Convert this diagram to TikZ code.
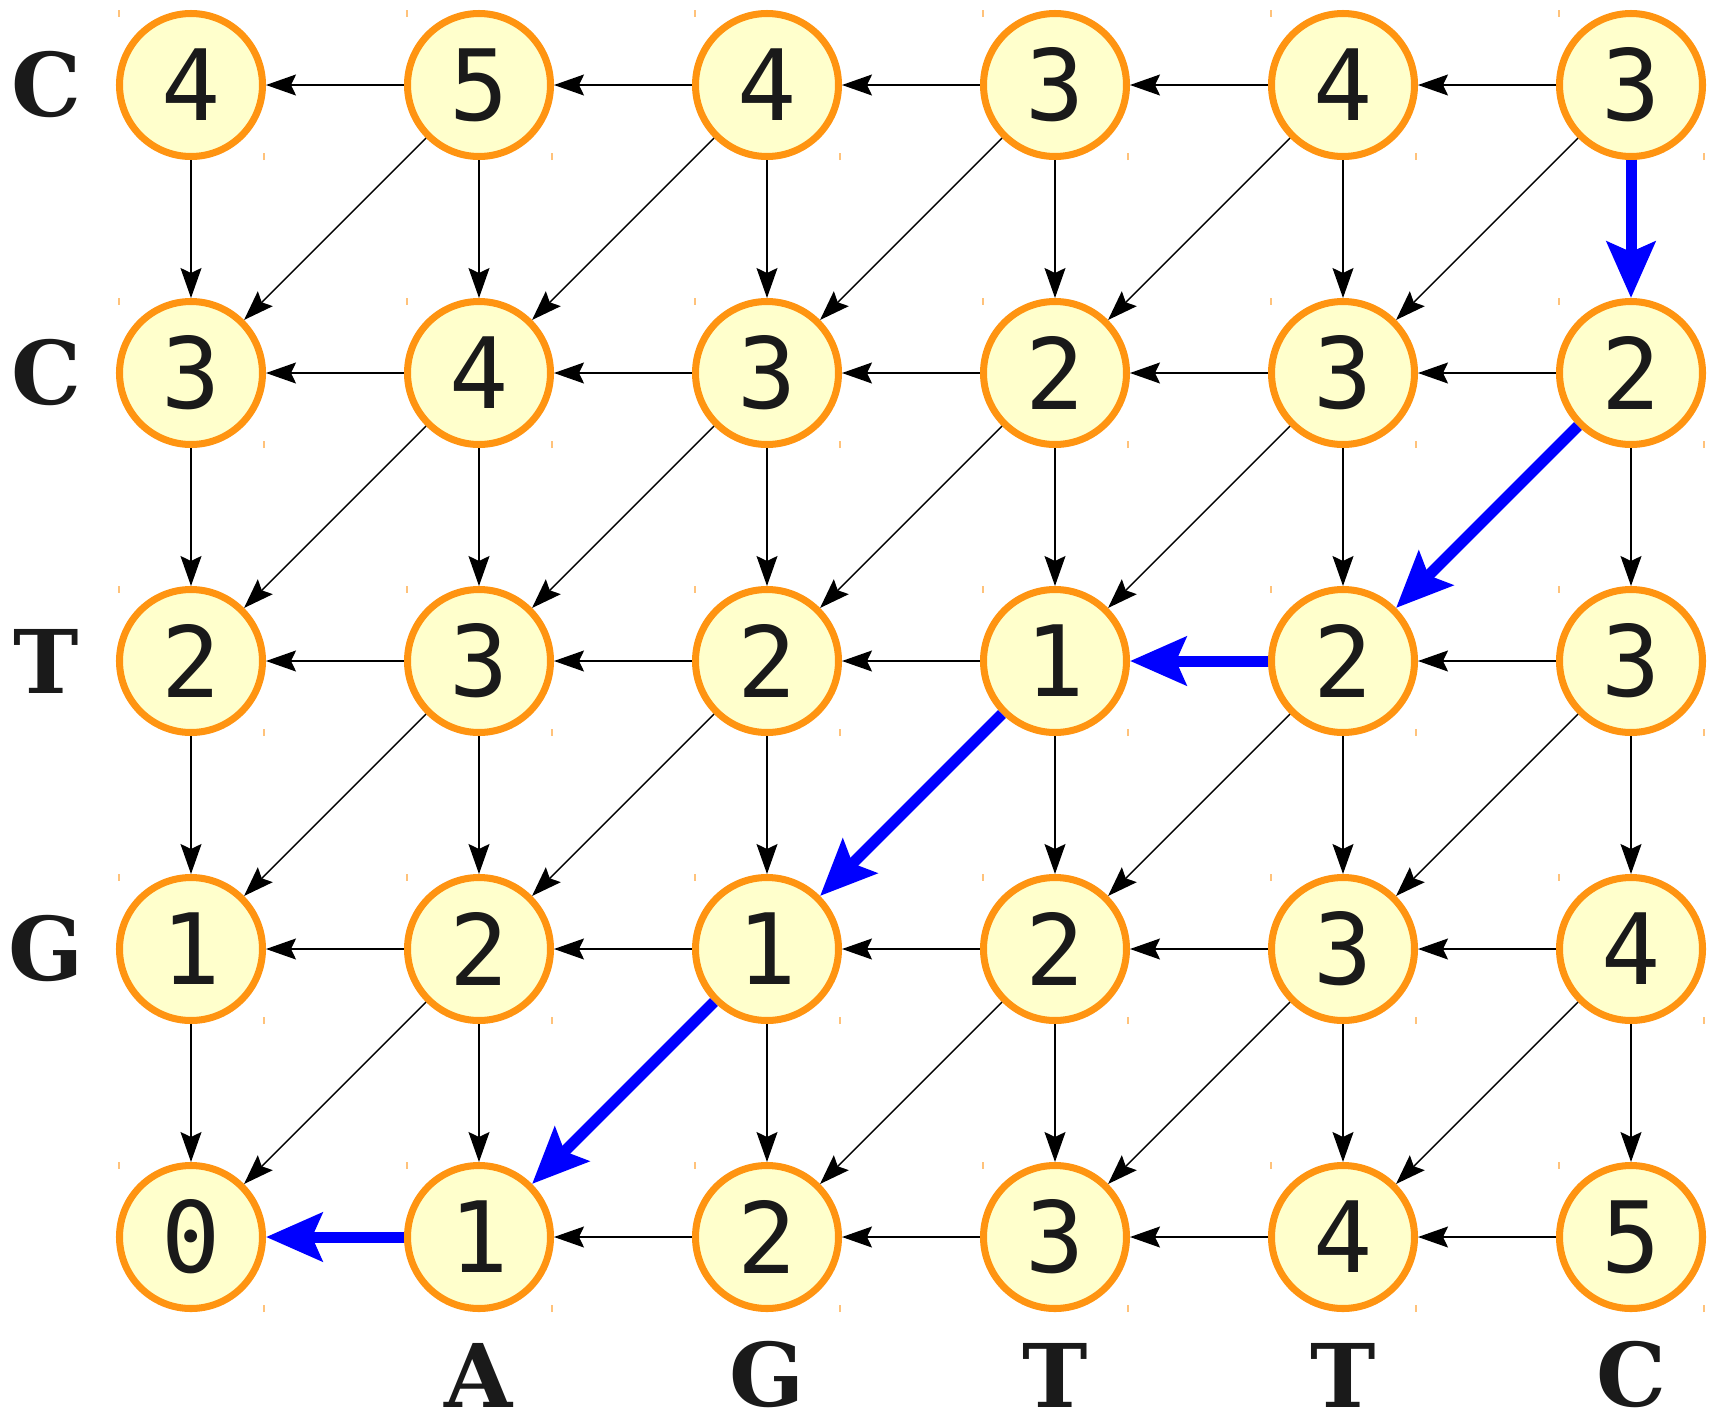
\documentclass[tikz,border=0pt]{standalone}
\usepackage{fontspec}
\newfontfamily\digitfont{DejaVu Sans Mono}
\newfontfamily\seqfont{DejaVu Serif}
\usepackage{tikz}
\usetikzlibrary{arrows.meta}
\definecolor{cellfill}{HTML}{FFFFCC}
\definecolor{cellline}{HTML}{FF9411}
\definecolor{crop}{HTML}{FFC27A}
\definecolor{ink}{HTML}{1A1A1A}
\definecolor{trace}{HTML}{0000FF}
\tikzset{
  cell/.style={circle, draw=cellline, fill=cellfill, line width=2pt, minimum size=1.43cm, inner sep=0pt, text=ink, font=\digitfont\fontsize{28}{28}\selectfont},
  base/.style={inner sep=0pt, text=ink, font=\seqfont\bfseries\fontsize{25}{25}\selectfont},
  edge/.style={-{Stealth[length=3mm, width=2.1mm, inset=0.5mm]}, line width=0.4pt},
  hit/.style={-{Stealth[length=5.6mm, width=4.8mm, inset=1mm]}, line width=1.1mm, draw=trace},
  cropmark/.style={draw=crop, line width=0.4pt},
}

\begin{document}
\begin{tikzpicture}
  \useasboundingbox (0,0) rectangle (17.14,-14.17);
  \foreach \row [count=\i from 0] in {{4,5,4,3,4,3},{3,4,3,2,3,2},{2,3,2,1,2,3},{1,2,1,2,3,4},{0,1,2,3,4,5}} {
    \foreach \v [count=\j from 0] in \row {
      \node[cell] (n-\i-\j) at (1.91+2.88*\j, -0.85-2.88*\i) {\v};
      \draw[cropmark] ([shift={(-0.72,0.75)}]n-\i-\j.center) -- ++(0,-0.07)
                      ([shift={(0.73,-0.75)}]n-\i-\j.center) -- ++(0,0.07);
    }
  }
  \foreach \b [count=\i from 0] in {C,C,T,G}
    \node[base] (r-\i) at (0.46, -0.85-2.88*\i) {\b};
  \foreach \b [count=\j from 1] in {A,G,T,T,C}
    \node[base] (c-\j) at (1.91+2.88*\j, -13.75) {\b};
  % left moves
  \foreach \i in {0,...,4}
    \foreach \j in {1,...,5} {
      \pgfmathtruncatemacro\k{\j-1}
      \pgfmathtruncatemacro\onpath{(\i==2 && \j==4) || (\i==4 && \j==1)}
      \ifnum\onpath=1 \def\how{hit}\else\def\how{edge}\fi
      \draw[\how] (n-\i-\j) -- (n-\i-\k);
    }
  % down moves
  \foreach \i in {0,...,3}
    \foreach \j in {0,...,5} {
      \pgfmathtruncatemacro\m{\i+1}
      \pgfmathtruncatemacro\onpath{(\i==0 && \j==5)}
      \ifnum\onpath=1 \def\how{hit}\else\def\how{edge}\fi
      \draw[\how] (n-\i-\j) -- (n-\m-\j);
    }
  % diagonal moves
  \foreach \i in {0,...,3}
    \foreach \j in {1,...,5} {
      \pgfmathtruncatemacro\m{\i+1}
      \pgfmathtruncatemacro\k{\j-1}
      \pgfmathtruncatemacro\onpath{(\i==1 && \j==5) || (\i==2 && \j==3) || (\i==3 && \j==2)}
      \ifnum\onpath=1 \def\how{hit}\else\def\how{edge}\fi
      \draw[\how] (n-\i-\j) -- (n-\m-\k);
    }
\end{tikzpicture}
\end{document}
